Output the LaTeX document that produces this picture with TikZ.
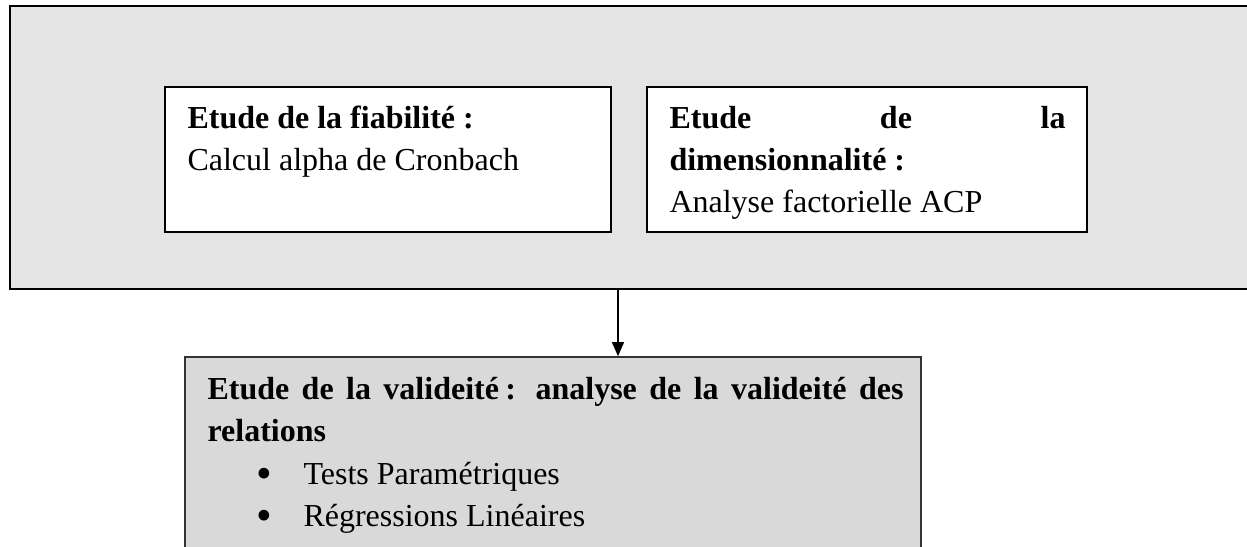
\documentclass[tikz,border=0pt]{standalone}
\usepackage{fontspec}
\setmainfont{Liberation Serif}
\usetikzlibrary{fit,arrows.meta}
\definecolor{outerfill}{HTML}{E4E4E4}
\definecolor{botfill}{HTML}{D9D9D9}
\begin{document}
\begin{tikzpicture}[x=0.375pt,y=-0.375pt,
  frame/.style={draw=black,inner sep=0pt,line width=0.6pt},
  txt/.style={anchor=base west,inner sep=0pt,font=\fontsize{12}{15.9}\selectfont},
  bul/.style={anchor=base west,inner sep=0pt,font=\fontsize{12}{15.9}\selectfont},
  arr/.style={-{Triangle[length=5.3pt,width=4.5pt]},line width=0.6pt}]
\useasboundingbox (0,0) rectangle (1247,546);
\clip (0,0) rectangle (1247,546);
\node[frame,line width=0.8pt,fill=outerfill,fit={(10,6)(1262,289)}] (outer) {};
\node[frame,fill=white,fit={(165,87)(611,232)}] (fiab) {};
\node[frame,fill=white,fit={(647,87)(1087,232)}] (dim) {};
\node[frame,draw=black!80,fill=botfill,fit={(185,357)(921,600)}] (valid) {};
\coordinate (ax) at (618,300);
\draw[arr] (outer.south -| ax) -- (valid.north -| ax);
\node[txt] (t1) at (187,128) {\bfseries Etude de la fiabilité :};
\node[txt] (t2) at (187,170) {Calcul alpha de Cronbach};
\node[txt] (d1) at (669,128) {\bfseries\makebox[148.5pt][s]{Etude de la}};
\node[txt] (d2) at (669,170) {\bfseries dimensionnalité :};
\node[txt] (d3) at (669,212) {Analyse factorielle ACP};
\node[txt] (v1) at (207,399) {\bfseries\makebox[261pt][s]{Etude de la valideité\kern0.2em: analyse de la valideité des}};
\node[txt] (v2) at (207,441) {\bfseries relations};
\node[bul] (b1) at (256,484) {\raisebox{-1.6pt}{\scalebox{1.4}{•}}};
\node[txt] (l1) at (303,484) {Tests Paramétriques};
\node[bul] (b2) at (256,526) {\raisebox{-1.6pt}{\scalebox{1.4}{•}}};
\node[txt] (l2) at (303,526) {Régressions Linéaires};
\end{tikzpicture}
\end{document}
